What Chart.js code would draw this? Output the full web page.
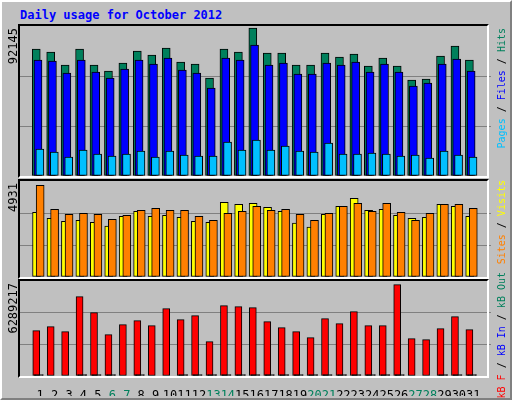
<!DOCTYPE html>
<html>
<head>
<meta charset="utf-8">
<script src="https://cdn.jsdelivr.net/npm/chart.js@4/dist/chart.umd.min.js"></script>
<style>
  body { margin: 0; background: #fff; }
  #frame { position: absolute; left: 0; top: 0; width: 508px; height: 396px; background: #C0C0C0;
           border-left: 2px solid #fff; border-top: 2px solid #fff; border-right: 2px solid #808080; border-bottom: 2px solid #808080;
           font-family: "DejaVu Sans Mono", monospace; }
  canvas { position: absolute; }
  .box { position: absolute; border-top: 2px solid #000; border-left: 2px solid #000;
         border-right: 2px solid #fff; border-bottom: 2px solid #fff; pointer-events: none; }
  .vt { position: absolute; writing-mode: vertical-rl; transform: rotate(180deg); white-space: nowrap; line-height: 11px; }
  #title { position: absolute; left: 18px; top: 6px; color: #0000FF; font-weight: bold; font-size: 12px; }
</style>
</head>
<body>
<div id="frame">
  <div id="title">Daily usage for October 2012</div>
  <canvas id="c1" width="471" height="150" style="left:18px;top:24px"></canvas>
  <canvas id="c2" width="471" height="96" style="left:18px;top:179px"></canvas>
  <canvas id="c3" width="471" height="115" style="left:18px;top:279px"></canvas>
  <div class="box" style="left:16px;top:22px;width:467px;height:150px"></div>
  <div class="box" style="left:16px;top:177px;width:467px;height:96px"></div>
  <div class="box" style="left:16px;top:277px;width:467px;height:95px"></div>
  <div class="vt" style="left:6px;top:26px;font-size:12px">92145</div>
  <div class="vt" style="left:6px;top:181px;font-size:12px">4931</div>
  <div class="vt" style="left:6px;top:281px;font-size:12px">6289217</div>
  <div class="vt" style="left:494px;top:26px;font-size:10px"><span style="color:#00C0FF">Pages</span> / <span style="color:#0000FF">Files</span> / <span style="color:#00805C">Hits</span></div>
  <div class="vt" style="left:494px;top:178px;font-size:10px"><span style="color:#FF8000">Sites</span> / <span style="color:#FFFF00">Visits</span></div>
  <div class="vt" style="left:494px;top:270px;font-size:10px"><span style="color:#FF0000">kB F</span> / <span style="color:#0000FF">kB In</span> / <span style="color:#00805C">kB Out</span></div>
</div>
<script>
const days = Array.from({length: 31}, (_, i) => i + 1);
const weekend = [6, 7, 13, 14, 20, 21, 27, 28];
const hits = [79070,77200,69110,79070,69110,65370,70350,77820,75330,79690,70980,69730,61010,79070,77200,92145,76580,76580,69110,69110,76580,74090,75960,68490,73470,68490,59770,60390,74710,80940,72220];
const files = [72220,71600,64130,72220,64750,61010,66620,72220,69730,73470,66000,64130,54790,73470,72220,81560,69110,70350,63500,63500,70350,69110,70980,64750,69730,64750,56030,57900,69730,72840,65370];
const pages = [16810,14940,11830,16190,13700,12450,13700,15570,11830,15570,13070,12450,12450,21170,16190,22410,16190,18680,15570,14940,20550,13700,13700,14320,13700,12450,13070,11210,15570,13070,11830];
const visits = [3477,3158,2998,3051,2945,2732,3264,3530,3264,3317,3211,2998,2945,4009,3903,3956,3743,3530,2892,2679,3371,3796,4222,3583,3637,3317,3158,3211,3903,3796,3264];
const sites = [4931,3637,3371,3424,3371,3104,3317,3583,3690,3583,3583,3264,3051,3424,3530,3796,3583,3637,3371,3051,3424,3796,3956,3530,3956,3477,3051,3424,3903,3903,3690];
const kbF = [3121600,3397000,3052700,5462800,4361100,2846200,3534800,3810200,3465900,4636500,3879100,4154500,2364200,4843100,4774200,4705400,3741300,3328200,3052700,2639600,3947900,3603600,4429900,3465900,3465900,6289217,2570700,2501900,3259300,4085600,3190500];
const kbIn = [90000,0,0,90000,90000,90000,0,90000,0,0,90000,90000,90000,90000,90000,90000,90000,90000,90000,90000,90000,90000,90000,90000,90000,90000,0,0,90000,90000,90000];

Chart.defaults.animation = false;
Chart.defaults.font.family = '"DejaVu Sans Mono", monospace';

function pts(vals, off) { return vals.map((v, i) => ({x: days[i] + off, y: v})); }
function ds(vals, off, color, w, order) {
  return {data: pts(vals, off), backgroundColor: color, borderColor: '#000', borderWidth: 1,
          borderSkipped: false, barThickness: w, grouped: false, order: order};
}
function opts(ymax, step, showX) {
  return {
    responsive: false, devicePixelRatio: 1,
    layout: {padding: 0},
    plugins: {legend: {display: false}, tooltip: {enabled: false}},
    scales: {
      x: {type: 'linear', min: 0.13, max: 31.7, display: showX,
          grid: {display: false}, border: {display: false},
          afterBuildTicks: s => { s.ticks = days.map(d => ({value: d})); },
          afterFit: s => { if (showX) s.height = 20; },
          ticks: {padding: 5, font: {size: 12}, autoSkip: false, maxRotation: 0,
                  color: c => weekend.includes(c.tick.value) ? '#00805C' : '#000'}},
      y: {min: 0, max: ymax, ticks: {display: false, stepSize: step}, border: {display: false},
          afterFit: s => { s.width = 0; },
          grid: {drawTicks: false, color: c => (c.index === 0 || c.tick.value >= ymax) ? 'rgba(0,0,0,0)' : '#808080'}}
    }
  };
}

new Chart(document.getElementById('c1'), {
  type: 'bar',
  data: {datasets: [ds(hits, -0.27, '#00805C', 8, 3), ds(files, -0.15, '#0000FF', 8, 2), ds(pages, -0.02, '#00C0FF', 8, 1)]},
  options: opts(93390, 31130, false)
});
new Chart(document.getElementById('c2'), {
  type: 'bar',
  data: {datasets: [ds(visits, -0.25, '#FFFF00', 8, 2), ds(sites, 0, '#FF8000', 8, 1)]},
  options: opts(5160, 1720, false)
});
new Chart(document.getElementById('c3'), {
  type: 'bar',
  data: {datasets: [ds(kbF, -0.27, '#FF0000', 7, 2), ds(kbIn, -0.09, '#000000', 9, 1)]},
  options: opts(6541000, 2180333, true)
});
</script>
</body>
</html>
